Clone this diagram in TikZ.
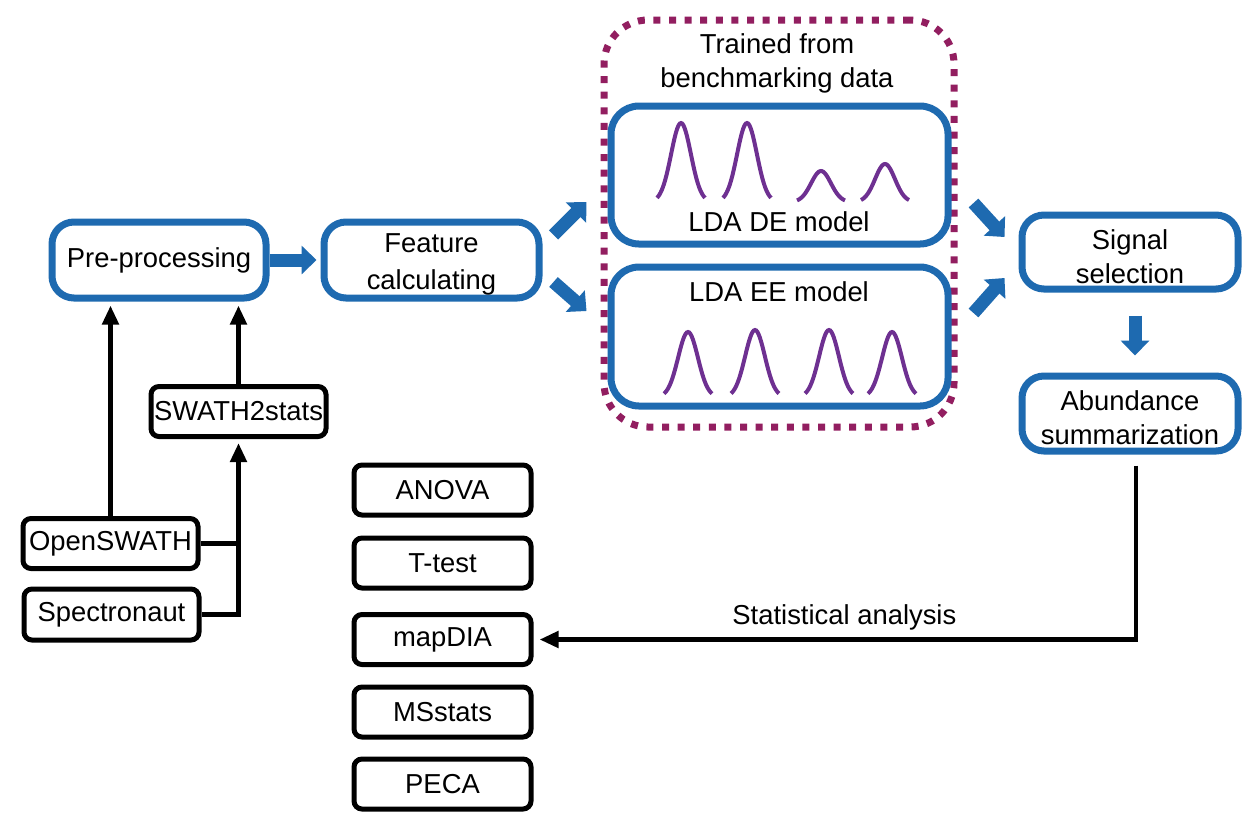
\documentclass[tikz,border=0pt]{standalone}
\usepackage{fontspec}
\setmainfont{Liberation Sans}
\usetikzlibrary{arrows.meta,calc}
\definecolor{boxblue}{RGB}{30,106,176}
\definecolor{dotpurple}{RGB}{146,30,96}
\definecolor{peakpurple}{RGB}{110,48,145}
\newcommand{\topgap}[1]{\rule{0pt}{#1}}

\begin{document}
\begin{tikzpicture}[x=0.5pt, y=-0.5pt,
	every node/.style={font=\fontsize{13.7}{17}\selectfont},
	bluebox/.style={draw=boxblue, line width=3.5pt, rounded corners=11pt, align=center, inner sep=0pt},
	toolbox/.style={draw=black, line width=2.5pt, rounded corners=4pt, minimum width=87.5pt, minimum height=25pt, inner sep=0pt},
	fat/.style={draw=boxblue, line width=6.5pt, -{Triangle[length=7.5pt, width=14pt]}},
	blkline/.style={draw=black, line width=2.4pt},
	blkarrow/.style={blkline, -{Triangle[length=9.5pt, width=8pt]}},
	peak/.style={draw=peakpurple, line width=2pt}]
	\fill[white] (0,0) rectangle (1256,826);
	\useasboundingbox (0,0) rectangle (1256,826);

	% trained models
	\node[draw=dotpurple, line width=3.5pt, dash pattern=on 3.5pt off 4.3pt, rounded corners=22pt,
		minimum width=175pt, minimum height=203.5pt] (trained) at (779,223.5) {};
	\node[align=center] (trainedtxt) at (777,63) {Trained from\\benchmarking data};
	\node[bluebox, rounded corners=14pt, minimum width=168.5pt, minimum height=69pt] (de) at (779.5,175) {};
	\node[bluebox, rounded corners=14pt, minimum width=168.5pt, minimum height=69.5pt] (ee) at (779.5,336.5) {};
	\node (detxt) at (779,222) {LDA DE model};
	\node (eetxt) at (779,292) {LDA EE model};
	\foreach \cx/\tp in {681/123, 747/123, 821/171, 885/164}
		\draw[peak] plot[domain=-24:24, samples=41, smooth] (\cx+\x, {202-(202-\tp)*exp(-(\x/14)^2)});
	\foreach \cx/\tp in {688/332, 755/330, 829/330, 892/332}
		\draw[peak] plot[domain=-24:24, samples=41, smooth] (\cx+\x, {397-(397-\tp)*exp(-(\x/14)^2)});

	% main flow
	\node[bluebox, minimum width=107pt, minimum height=38pt] (pre) at (159,260) {Pre-processing};
	\node[bluebox, minimum width=107.5pt, minimum height=38pt, font=\fontsize{13.7}{18.5}\selectfont] (feat) at (431.5,260) {\topgap{14pt}Feature\\calculating};
	\node[bluebox, minimum width=108pt, minimum height=37pt] (sig) at (1130,252) {\topgap{15pt}Signal\\selection};
	\node[bluebox, minimum width=108pt, minimum height=37.5pt] (abund) at (1130,413.5) {\topgap{14.5pt}Abundance\\summarization};

	\draw[fat, shorten >=2pt] (pre.east) -- (feat.west);
	\draw[fat] ($(feat.east)+(11,-25)$) -- ($(de.west)+(-21,27)$);
	\draw[fat] ($(feat.east)+(11,22)$) -- ($(ee.west)+(-21,-25.5)$);
	\draw[fat] ($(de.east)+(22,28)$) -- ($(sig.west)+(-14,-15)$);
	\draw[fat] ($(ee.east)+(22,-23.5)$) -- ($(sig.west)+(-14,26)$);
	\draw[fat] ($(sig.south)+(5,23)$) -- ($(abund.north)+(5,-17)$);

	% inputs
	\node[toolbox] (open) at (110.5,543.5) {OpenSWATH};
	\node[toolbox, minimum height=25.5pt] (spec) at (111.5,614.5) {Spectronaut};
	\node[toolbox] (s2s) at (238.5,411.5) {SWATH2stats};
	\draw[blkarrow, shorten >=2pt] (open.north) -- (open.north |- pre.south);
	\draw[blkarrow, shorten >=2pt] (s2s.north) -- (s2s.north |- pre.south);
	\draw[blkline] (open.east) -- (open.east -| s2s.south);
	\draw[blkarrow, shorten >=2pt] (spec.east) -| (s2s.south);

	% statistics
	\foreach \nm/\txt/\yy in {anova/ANOVA/490, ttest/T-test/563, mapdia/mapDIA/639.5, msstats/MSstats/712, peca/PECA/784}
		\node[toolbox, minimum width=88.5pt] (\nm) at (442.5,\yy) {\txt};
	\draw[blkarrow, shorten >=3pt] ($(abund.south)+(6,11)$) |- node[pos=0.742, above, inner sep=3.5pt] (statlbl) {Statistical analysis} (mapdia.east);
\end{tikzpicture}
\end{document}
